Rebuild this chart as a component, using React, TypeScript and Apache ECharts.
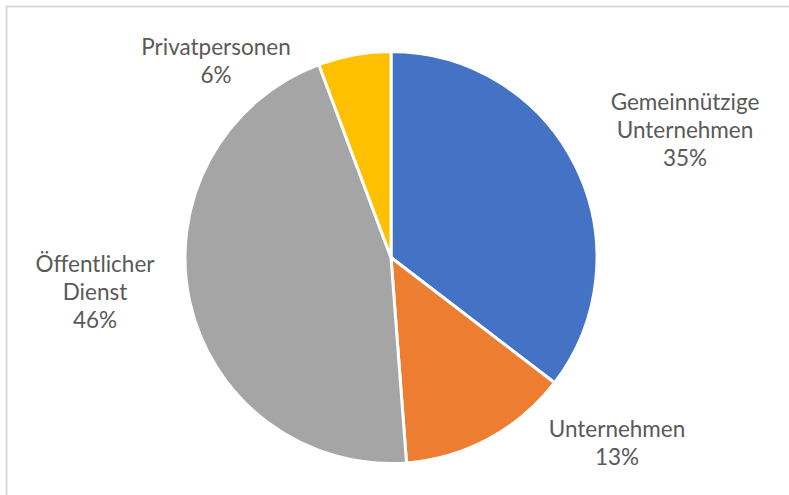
import React, { useEffect, useRef } from "react";
import * as echarts from "echarts";

const categories = ["Gemeinnützige Unternehmen", "Unternehmen", "Öffentlicher Dienst", "Privatpersonen"];
const labelNames = ["Gemeinnützige\nUnternehmen", "Unternehmen", "Öffentlicher\nDienst", "Privatpersonen"];
const values = [35.4, 13.4, 45.5, 5.7];
const colors = ["#4472C4", "#ED7D31", "#A5A5A5", "#FFC000"];
const labelPos = [
  [685, 129],
  [617, 442],
  [95, 291],
  [216, 60],
];

export default function App() {
  const ref = useRef<HTMLDivElement>(null);
  useEffect(() => {
    const chart = echarts.init(ref.current!, undefined, { renderer: "svg" });
    chart.setOption({
      animation: false,
      backgroundColor: "#ffffff",
      graphic: [
        {
          type: "rect",
          shape: { x: 6.5, y: 6.5, width: 820, height: 520 },
          style: { fill: "none", stroke: "#D9D9D9", lineWidth: 2 },
          silent: true,
        },
      ],
      series: [
        {
          type: "pie",
          center: [391, 257.5],
          radius: 206,
          startAngle: 90,
          clockwise: true,
          percentPrecision: 0,
          data: categories.map((c, i) => ({
            name: c,
            value: values[i],
            itemStyle: { color: colors[i] },
          })),
          itemStyle: { borderColor: "#ffffff", borderWidth: 3 },
          label: {
            show: true,
            position: "outside",
            formatter: (p: any) => `${labelNames[p.dataIndex]}\n${p.percent}%`,
            color: "#595959",
            fontFamily: "Lato",
            fontSize: 22.5,
            lineHeight: 28,
            align: "center",
          },
          labelLine: { show: false },
          labelLayout: (params: any) => ({
            x: labelPos[params.dataIndex][0],
            y: labelPos[params.dataIndex][1],
            align: "center",
            verticalAlign: "middle",
          }),
        },
      ],
    });
    return () => chart.dispose();
  }, []);
  return (
    <div
      ref={ref}
      style={{ position: "fixed", left: 0, top: 0, width: 789, height: 495 }}
    />
  );
}
